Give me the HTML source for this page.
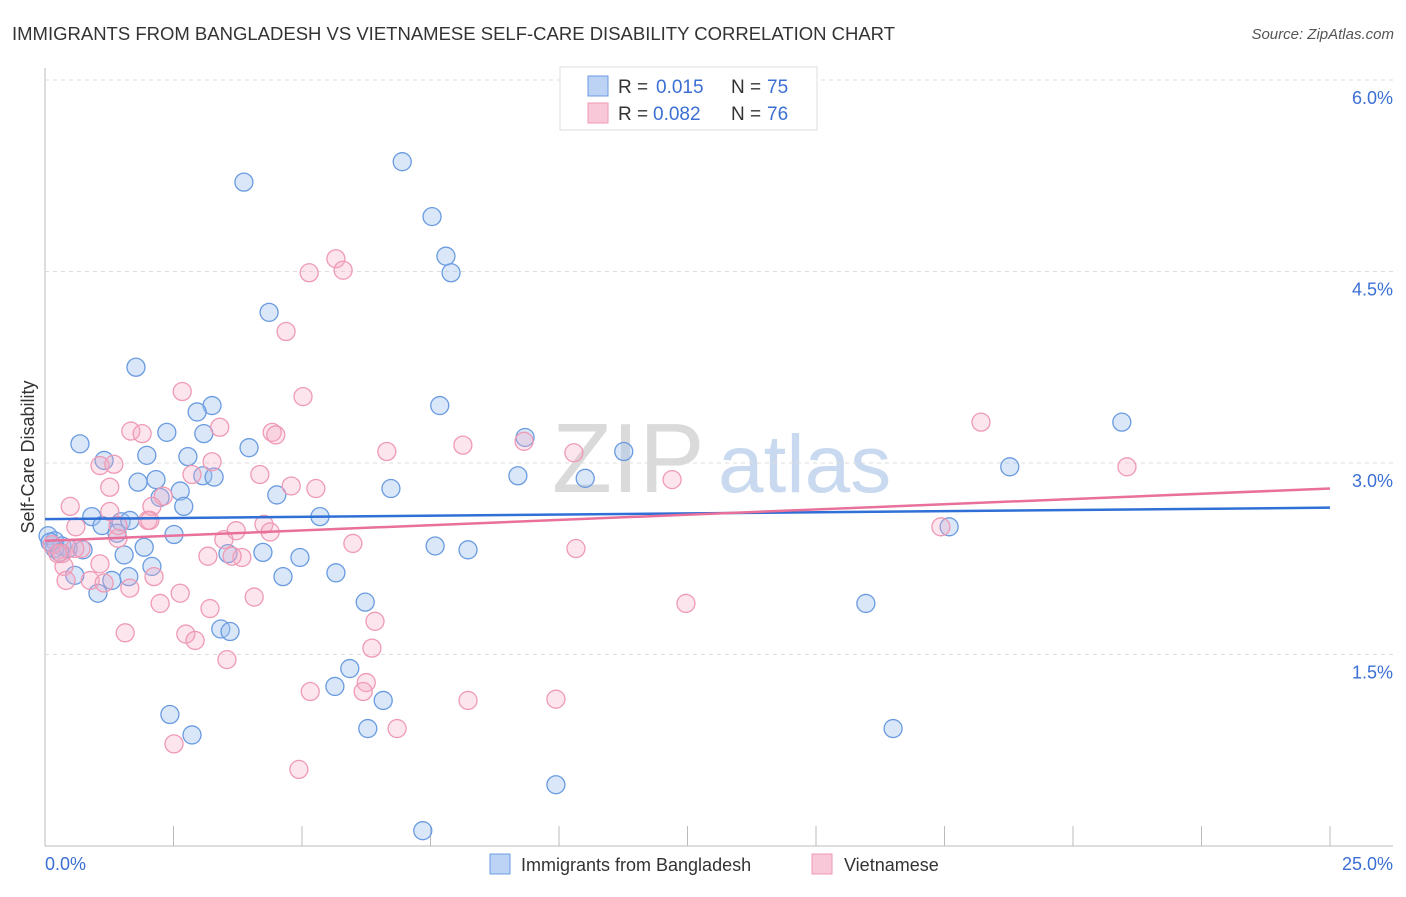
<!DOCTYPE html>
<html><head><meta charset="utf-8"><style>
body{margin:0;background:#fff;font-family:"Liberation Sans",sans-serif}
svg text{font-family:"Liberation Sans",sans-serif}
</style></head><body>
<svg id="chart" width="1406" height="892">
<text x="12" y="40" font-size="18.5" fill="#333">IMMIGRANTS FROM BANGLADESH VS VIETNAMESE SELF-CARE DISABILITY CORRELATION CHART</text>
<text x="1394" y="39" font-size="15" fill="#555" font-style="italic" text-anchor="end">Source: ZipAtlas.com</text>
<g><text x="552" y="492" font-size="98" fill="#dadada" font-family="Liberation Serif">ZIP</text><text x="718" y="492" font-size="82" fill="#c9daf0">atlas</text></g>
<g id="grid"></g><g id="marks"></g>
<text transform="translate(34,457) rotate(-90)" font-size="18" fill="#333" text-anchor="middle">Self-Care Disability</text>
<text x="45" y="870" font-size="18" fill="#3b6fd4">0.0%</text>
<text x="1393" y="870" font-size="18" fill="#3b6fd4" text-anchor="end">25.0%</text>
<g>
<rect x="560" y="67" width="257" height="63" fill="#fff" stroke="#ddd"/>
<rect x="588" y="76" width="20" height="20" fill="#bcd3f5" stroke="#6a9be0"/>
<text y="93" font-size="19" fill="#333"><tspan x="618">R =</tspan><tspan x="656" fill="#3b6fd4">0.015</tspan><tspan x="731">N =</tspan><tspan x="767" fill="#3b6fd4">75</tspan></text>
<rect x="588" y="103" width="20" height="20" fill="#f8c8d8" stroke="#ef9ab5"/>
<text y="120" font-size="19" fill="#333"><tspan x="618">R =</tspan><tspan x="653" fill="#3b6fd4">0.082</tspan><tspan x="731">N =</tspan><tspan x="767" fill="#3b6fd4">76</tspan></text>
</g>
<g>
<rect x="490" y="854" width="20" height="20" fill="#bcd3f5" stroke="#6a9be0"/>
<text x="521" y="871" font-size="18" fill="#333">Immigrants from Bangladesh</text>
<rect x="812" y="854" width="20" height="20" fill="#f8c8d8" stroke="#ef9ab5"/>
<text x="844" y="871" font-size="18" fill="#333">Vietnamese</text>
</g>
</svg>
<script>
const yTicks=[1.5,3.0,4.5,6.0];
const xTickVals=[0,2.5,5,7.5,10,12.5,15,17.5,20,22.5,25];
const blueX=[6.95,3.87,7.53,7.80,7.90,4.36,1.77,3.25,2.96,7.68,0.68,2.37,3.09,9.34,3.97,1.98,2.78,1.15,3.07,3.29,11.26,18.77,20.95,9.20,1.81,2.16,2.63,2.24,2.70,4.51,6.73,0.91,1.48,5.35,1.11,1.40,2.51,0.06,0.19,0.33,0.45,0.74,1.93,1.54,4.24,4.96,7.59,8.23,17.59,2.08,0.58,1.63,1.30,1.03,4.63,5.66,3.56,6.23,15.97,3.42,3.60,5.93,5.64,6.58,2.43,2.86,6.28,16.50,9.94,7.35,0.19,0.29,10.51,1.65,0.10];
const blueY=[5.36,5.20,4.93,4.62,4.49,4.18,3.75,3.45,3.40,3.45,3.15,3.24,3.23,3.20,3.12,3.06,3.05,3.02,2.90,2.89,3.09,2.97,3.32,2.90,2.85,2.87,2.78,2.73,2.66,2.75,2.80,2.58,2.54,2.58,2.51,2.45,2.44,2.43,2.39,2.35,2.33,2.32,2.34,2.28,2.30,2.26,2.35,2.32,2.50,2.19,2.12,2.11,2.08,1.98,2.11,2.14,2.29,1.91,1.90,1.70,1.68,1.39,1.25,1.14,1.03,0.87,0.92,0.92,0.48,0.12,2.33,2.30,2.88,2.55,2.38];
const pinkX=[5.66,5.14,5.80,4.69,2.67,5.02,3.40,1.67,1.89,4.42,4.49,6.65,8.13,9.32,10.29,18.21,21.05,12.20,1.07,1.34,3.25,2.86,4.18,1.26,4.79,5.27,2.30,2.08,0.49,2.00,0.60,4.26,3.72,4.38,17.43,1.42,3.48,5.99,0.70,0.33,10.33,3.17,3.83,3.64,1.07,0.37,2.12,0.88,1.65,0.41,1.15,2.63,2.24,3.21,12.47,4.07,6.42,1.56,2.74,2.92,6.36,3.54,6.25,5.16,6.19,8.23,9.94,6.85,2.51,4.94,1.26,0.14,0.25,0.58,1.42,2.04];
const pinkY=[4.60,4.49,4.51,4.03,3.56,3.52,3.28,3.25,3.23,3.24,3.22,3.09,3.14,3.17,3.08,3.32,2.97,2.87,2.98,2.99,3.01,2.91,2.91,2.81,2.82,2.80,2.74,2.66,2.66,2.55,2.50,2.52,2.47,2.46,2.50,2.41,2.40,2.37,2.33,2.29,2.33,2.27,2.26,2.27,2.21,2.19,2.11,2.08,2.02,2.08,2.06,1.98,1.90,1.86,1.90,1.95,1.76,1.67,1.66,1.61,1.55,1.46,1.28,1.21,1.21,1.14,1.15,0.92,0.80,0.60,2.62,2.36,2.29,2.33,2.51,2.55];
const blueTrend=[2.56,2.65];
const pinkTrend=[2.39,2.80];
const NS="http://www.w3.org/2000/svg";
const X=v=>45+v/25*1285, Y=v=>846-v/6*766;
function mk(p,tag,a){const e=document.createElementNS(NS,tag);for(const k in a)e.setAttribute(k,a[k]);p.appendChild(e);return e;}
const grid=document.getElementById('grid'),marks=document.getElementById('marks');
let ax=mk(grid,'line',{x1:45,y1:68,x2:45,y2:846,stroke:'#bbb'});


let bx=mk(grid,'line',{x1:45,y1:846,x2:1393,y2:846,stroke:'#bbb'});


yTicks.forEach(t=>{
 let g=mk(grid,'line',{x1:45,x2:1393,y1:Y(t),y2:Y(t),stroke:'#ddd','stroke-dasharray':'4,4'});
 
 
 let l=mk(grid,'text',{x:1393,y:Y(t)+24,'font-size':18,fill:'#3b6fd4','text-anchor':'end'});
 l.textContent=t.toFixed(1)+'%';
 
 
});
xTickVals.forEach(t=>{
 let k=mk(grid,'line',{x1:X(t),x2:X(t),y1:826,y2:846,stroke:'#bbb'});
 
 
});
function pts(xs,ys,fill,stroke,name){xs.forEach((x,i)=>{
 let c=mk(marks,'circle',{cx:X(x),cy:Y(ys[i]),r:9,fill:fill,stroke:stroke,'stroke-width':1.3});
 
 
});}
pts(blueX,blueY,'rgba(160,195,240,0.4)','#6a9be0','bangladesh-point');
pts(pinkX,pinkY,'rgba(245,170,195,0.3)','#ef9ab5','vietnamese-point');
let t1=mk(marks,'line',{x1:X(0),y1:Y(blueTrend[0]),x2:X(25),y2:Y(blueTrend[1]),stroke:'#2f6fd6','stroke-width':2.5});


let t2=mk(marks,'line',{x1:X(0),y1:Y(pinkTrend[0]),x2:X(25),y2:Y(pinkTrend[1]),stroke:'#e8709a','stroke-width':2.5});


</script>
</body></html>
